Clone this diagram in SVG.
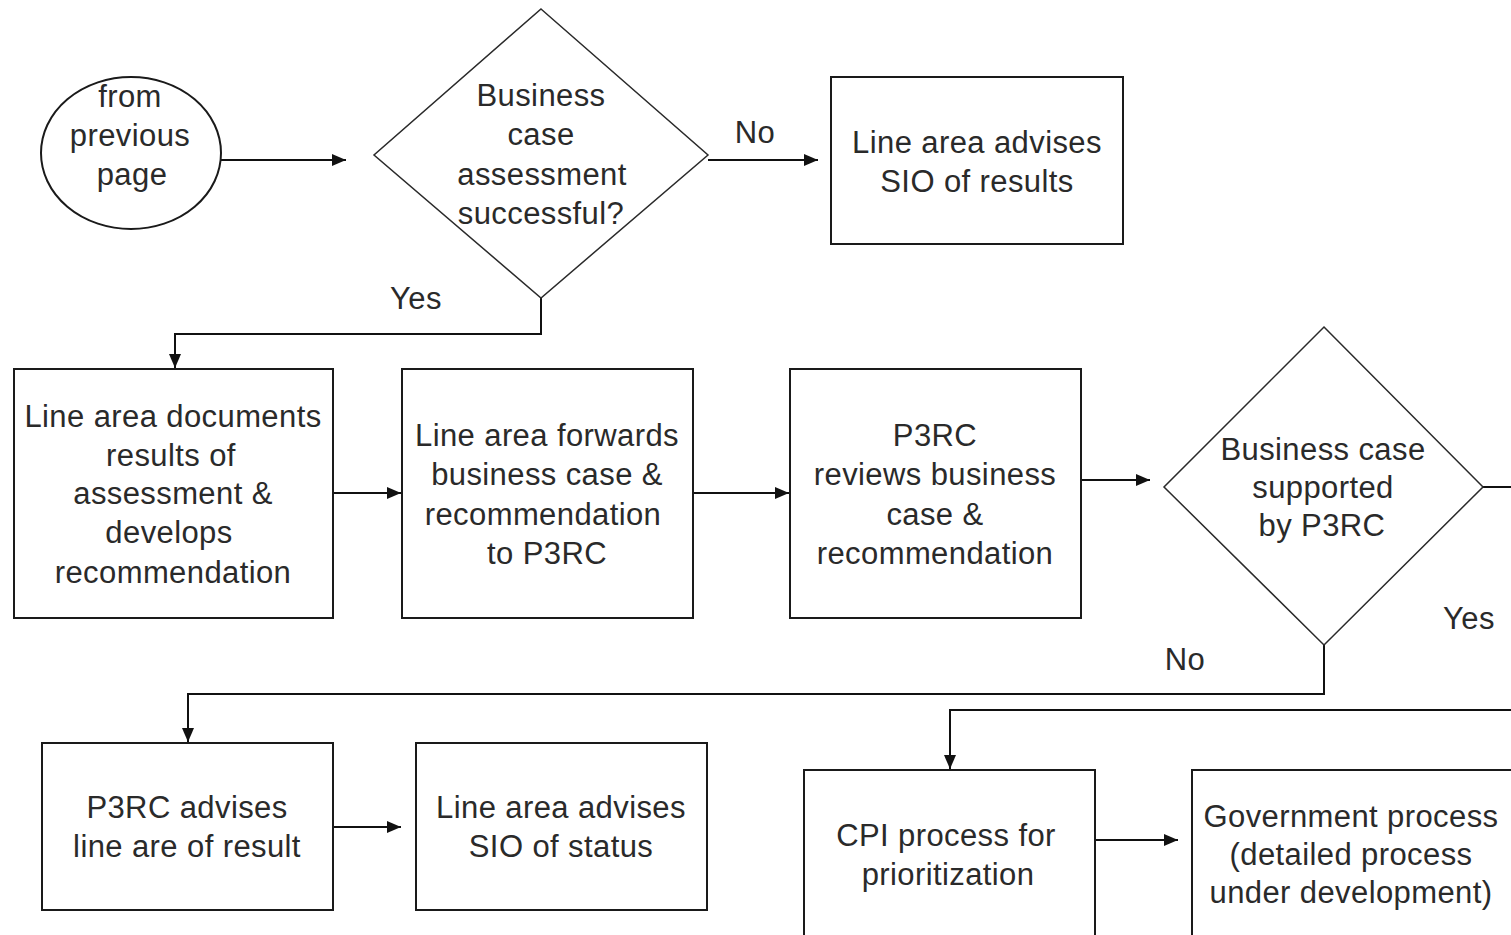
<svg xmlns="http://www.w3.org/2000/svg" width="1511" height="935" viewBox="0 0 1511 935">
  <style>
    .shape { fill: #ffffff; stroke: #1a1a1a; stroke-width: 2; }
    .diamond { fill: #ffffff; stroke: #2a2a2a; stroke-width: 1.5; }
    .lbl { font-family: "Liberation Sans", Arial, sans-serif; font-size: 31px; fill: #2a2a2a; text-anchor: middle; letter-spacing: 0.4px; }
    .edge { fill: none; stroke: #111111; stroke-width: 2; }
  </style>
  <defs>
    <marker id="arrow" markerWidth="14" markerHeight="12" refX="14" refY="6" orient="auto" markerUnits="userSpaceOnUse">
      <path d="M0,0 L14,6 L0,12 Z" fill="#111111"/>
    </marker>
  </defs>
  <rect width="1511" height="935" fill="#ffffff"/>

  <!-- connectors -->
  <g id="connectors">
    <path class="edge" d="M221,160 H346" marker-end="url(#arrow)"/>
    <path class="edge" d="M708,160 H818" marker-end="url(#arrow)"/>
    <text class="lbl" x="755" y="143">No</text>
    <path class="edge" d="M541,298 V334 H175 V368" marker-end="url(#arrow)"/>
    <text class="lbl" x="416" y="309">Yes</text>
    <path class="edge" d="M333,493 H401" marker-end="url(#arrow)"/>
    <path class="edge" d="M693,493 H789" marker-end="url(#arrow)"/>
    <path class="edge" d="M1081,480 H1150" marker-end="url(#arrow)"/>
    <path class="edge" d="M1483,487 H1511"/>
    <text class="lbl" x="1469" y="629">Yes</text>
    <path class="edge" d="M1324,645 V694 H188 V742" marker-end="url(#arrow)"/>
    <text class="lbl" x="1185" y="670">No</text>
    <path class="edge" d="M1511,710 H950 V769" marker-end="url(#arrow)"/>
    <path class="edge" d="M333,827 H401" marker-end="url(#arrow)"/>
    <path class="edge" d="M1095,840 H1178" marker-end="url(#arrow)"/>
  </g>

  <g id="start">
    <ellipse class="shape" cx="131" cy="153" rx="90" ry="76"/>
    <text class="lbl" x="130" y="107">from</text>
    <text class="lbl" x="130" y="146">previous</text>
    <text class="lbl" x="132" y="185">page</text>
  </g>

  <g id="decision-assessment">
    <polygon class="diamond" points="541,9 708,155 541,298 374,155"/>
    <text class="lbl" x="541" y="106">Business</text>
    <text class="lbl" x="541" y="145">case</text>
    <text class="lbl" x="542" y="185">assessment</text>
    <text class="lbl" x="541" y="224">successful?</text>
  </g>

  <g id="advise-results">
    <rect class="shape" x="831" y="77" width="292" height="167"/>
    <text class="lbl" x="977" y="153">Line area advises</text>
    <text class="lbl" x="977" y="192">SIO of results</text>
  </g>

  <g id="document-results">
    <rect class="shape" x="14" y="369" width="319" height="249"/>
    <text class="lbl" x="173" y="427">Line area documents</text>
    <text class="lbl" x="171" y="466">results of</text>
    <text class="lbl" x="173" y="504">assessment &amp;</text>
    <text class="lbl" x="169" y="543">develops</text>
    <text class="lbl" x="173" y="583">recommendation</text>
  </g>

  <g id="forward-case">
    <rect class="shape" x="402" y="369" width="291" height="249"/>
    <text class="lbl" x="547" y="446">Line area forwards</text>
    <text class="lbl" x="547" y="485">business case &amp;</text>
    <text class="lbl" x="543" y="525">recommendation</text>
    <text class="lbl" x="547" y="564">to P3RC</text>
  </g>

  <g id="p3rc-review">
    <rect class="shape" x="790" y="369" width="291" height="249"/>
    <text class="lbl" x="935" y="446">P3RC</text>
    <text class="lbl" x="935" y="485">reviews business</text>
    <text class="lbl" x="935" y="525">case &amp;</text>
    <text class="lbl" x="935" y="564">recommendation</text>
  </g>

  <g id="decision-supported">
    <polygon class="diamond" points="1324,327 1483,487 1324,645 1164,487"/>
    <text class="lbl" x="1323" y="460">Business case</text>
    <text class="lbl" x="1323" y="498">supported</text>
    <text class="lbl" x="1322" y="536">by P3RC</text>
  </g>

  <g id="p3rc-advises">
    <rect class="shape" x="42" y="743" width="291" height="167"/>
    <text class="lbl" x="187" y="818">P3RC advises</text>
    <text class="lbl" x="187" y="857">line are of result</text>
  </g>

  <g id="advise-status">
    <rect class="shape" x="416" y="743" width="291" height="167"/>
    <text class="lbl" x="561" y="818">Line area advises</text>
    <text class="lbl" x="561" y="857">SIO of status</text>
  </g>

  <g id="cpi-process">
    <rect class="shape" x="804" y="770" width="291" height="180"/>
    <text class="lbl" x="946" y="846">CPI process for</text>
    <text class="lbl" x="948" y="885">prioritization</text>
  </g>

  <g id="government-process">
    <rect class="shape" x="1192" y="770" width="330" height="180"/>
    <text class="lbl" x="1351" y="827">Government process</text>
    <text class="lbl" x="1351" y="865">(detailed process</text>
    <text class="lbl" x="1351" y="903">under development)</text>
  </g>
</svg>
